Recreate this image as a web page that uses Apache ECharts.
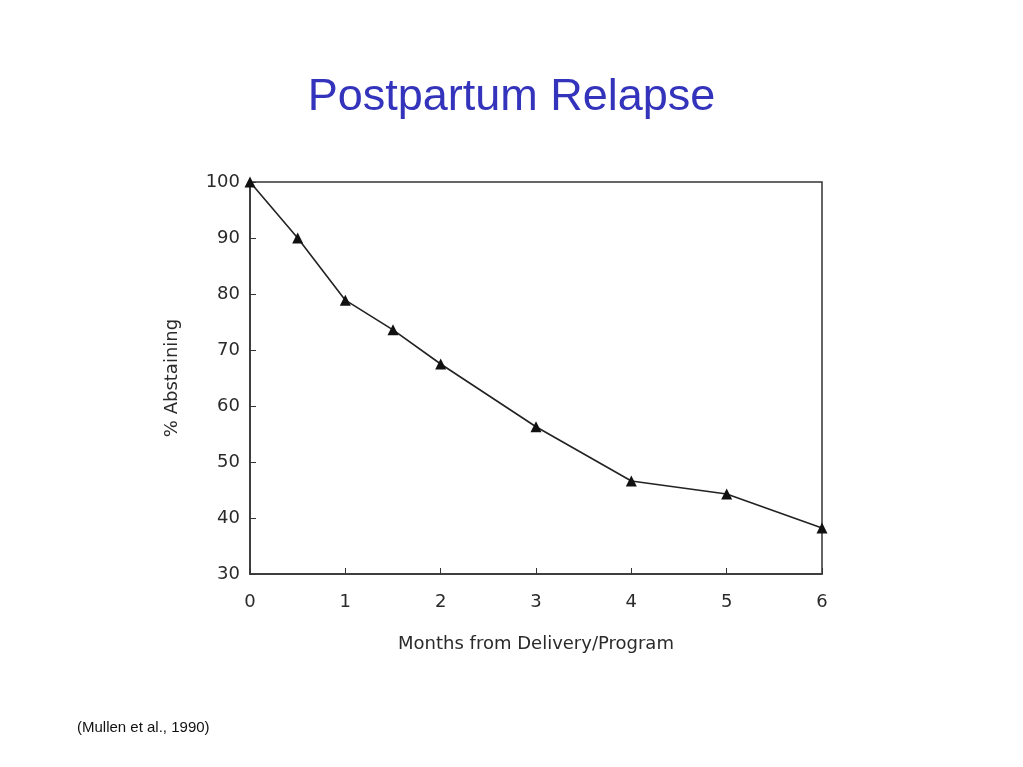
<!DOCTYPE html>
<html>
<head>
<meta charset="utf-8">
<script src="https://cdn.jsdelivr.net/npm/echarts@6/dist/echarts.min.js"></script>
<style>html,body{margin:0;padding:0;background:#fff;}#c{width:1023px;height:767px;}</style>
</head>
<body>
<div id="c"></div>
<script>
const months = [0, 0.5, 1, 1.5, 2, 3, 4, 5, 6];
const abstaining = [100, 90, 78.9, 73.6, 67.5, 56.3, 46.6, 44.3, 38.2];
const xTicks = [0, 1, 2, 3, 4, 5, 6];
const yTicks = [30, 40, 50, 60, 70, 80, 90, 100];

const chart = echarts.init(document.getElementById('c'));
const tickFont = { fontFamily: 'DejaVu Sans', fontSize: 18, color: '#2a2a2a' };
chart.setOption({
  animation: false,
  backgroundColor: '#fff',
  title: [
    { text: 'Postpartum Relapse', left: 'center', top: 70,
      textStyle: { fontFamily: 'Liberation Sans', fontSize: 45, fontWeight: 'normal', color: '#3333bb' } },
    { text: '(Mullen et al., 1990)', left: 72, top: 715,
      textStyle: { fontFamily: 'Liberation Sans', fontSize: 15, fontWeight: 'normal', color: '#111' } }
  ],
  grid: { left: 250, top: 182, right: 201, bottom: 193, show: true, borderColor: '#333', borderWidth: 1.5, backgroundColor: 'transparent' },
  xAxis: {
    type: 'value', min: xTicks[0], max: xTicks[xTicks.length - 1], interval: 1,
    name: 'Months from Delivery/Program', nameLocation: 'middle', nameGap: 61,
    nameTextStyle: { fontFamily: 'DejaVu Sans', fontSize: 18, color: '#2a2a2a' },
    axisLine: { lineStyle: { color: '#333', width: 1.5 } },
    axisTick: { inside: true, length: 6, lineStyle: { color: '#333' } },
    axisLabel: Object.assign({ margin: 19 }, tickFont),
    splitLine: { show: false }
  },
  yAxis: {
    type: 'value', min: yTicks[0], max: yTicks[yTicks.length - 1], interval: 10,
    name: '% Abstaining', nameLocation: 'middle', nameGap: 69,
    nameTextStyle: { fontFamily: 'DejaVu Sans', fontSize: 18, color: '#2a2a2a' },
    axisLine: { lineStyle: { color: '#333', width: 1.5 } },
    axisTick: { inside: true, length: 6, lineStyle: { color: '#333' } },
    axisLabel: Object.assign({ margin: 10 }, tickFont),
    splitLine: { show: false }
  },
  series: [{
    type: 'line',
    data: months.map((m, i) => [m, abstaining[i]]),
    symbol: 'triangle', symbolSize: 11,
    itemStyle: { color: '#111' },
    lineStyle: { color: '#222', width: 1.6 },
    clip: false
  }]
});
</script>
</body>
</html>
